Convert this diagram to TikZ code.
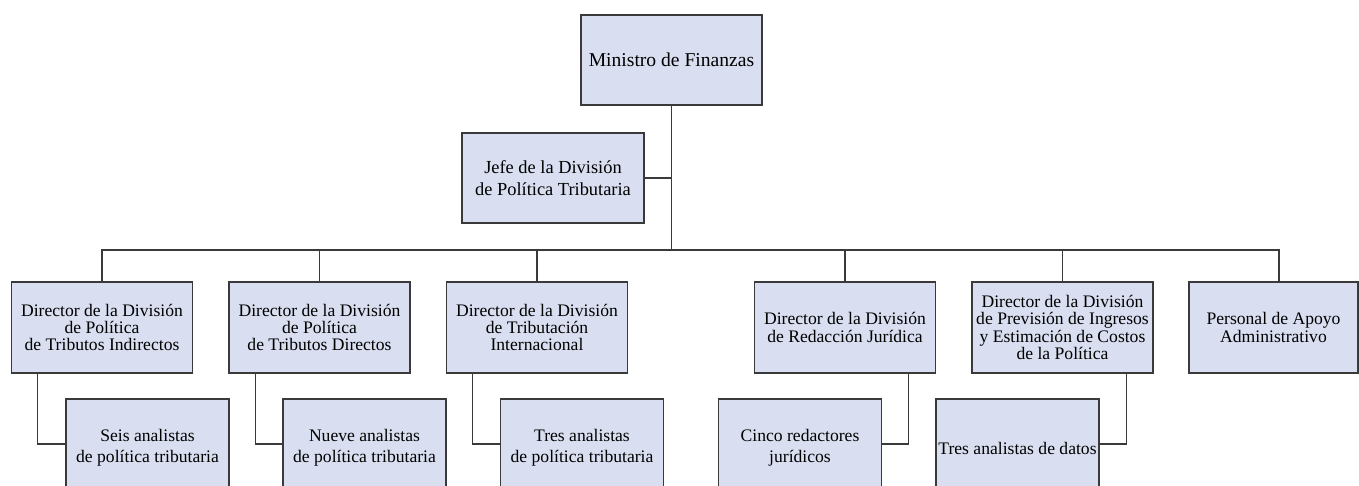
\documentclass[tikz,border=0pt]{standalone}
\usepackage{fontspec}
\setmainfont{Liberation Serif}
\definecolor{boxfill}{HTML}{D9DFF0}
\definecolor{boxline}{HTML}{3A3A3A}
\begin{document}
\begin{tikzpicture}[x=1pt,y=-1pt,
  orgbox/.style={draw=boxline, fill=boxfill, line width=1.4pt, inner sep=0pt,
    align=center, font=\fontsize{17.6}{17.3}\selectfont},
  subbox/.style={orgbox, minimum width=163pt, minimum height=98pt,
    font=\fontsize{17.6}{20.7}\selectfont},
  lvltwo/.style={orgbox, minimum width=181pt, minimum height=91pt},
  conn/.style={draw=boxline, line width=1.2pt}]
\useasboundingbox (0,0) rectangle (1359,485);
% top
\node[orgbox, minimum width=181pt, minimum height=90pt, font=\fontsize{19.6}{22}\selectfont] (min) at (671.5,60) {Ministro de Finanzas};
\node[orgbox, minimum width=182pt, minimum height=90pt, font=\fontsize{18.4}{22}\selectfont] (jefe) at (553,178) {Jefe de la División\\de Política Tributaria};
% level two
\node[lvltwo] (d1) at (102,327.5) {Director de la División\\de Política\\de Tributos Indirectos};
\node[lvltwo] (d2) at (319.5,327.5) {Director de la División\\de Política\\de Tributos Directos};
\node[lvltwo] (d3) at (537,327.5) {Director de la División\\de Tributación\\Internacional};
\node[lvltwo] (d4) at (845,327.5) {Director de la División\\de Redacción Jurídica};
\node[lvltwo] (d5) at (1062.5,327.5) {Director de la División\\de Previsión de Ingresos\\y Estimación de Costos\\de la Política};
\node[lvltwo, minimum width=169pt] (d6) at (1273.5,327.5) {Personal de Apoyo\\Administrativo};
% level three
\node[subbox] (s1) at (147.5,448) {Seis analistas\\de política tributaria};
\node[subbox] (s2) at (364.5,448) {Nueve analistas\\de política tributaria};
\node[subbox] (s3) at (582,448) {Tres analistas\\de política tributaria};
\node[subbox] (s4) at (800,448) {Cinco redactores\\jurídicos};
\node[subbox] (s5) at (1017.5,448) {Tres analistas de datos};
% connectors
\coordinate (bus) at (671.5,250);
\draw[conn] (min.south) -- (bus);
\draw[conn] (jefe.east) -- (jefe.east -| min.south);
\draw[conn] (d1.north) -- (d1.north |- bus) -- ([xshift=5.5pt]d6.north |- bus) -- ([xshift=5.5pt]d6.north);
\foreach \n in {d2,d3,d4,d5}{\draw[conn] (\n.north) -- (\n.north |- bus);}
\draw[conn] ([xshift=27pt]d1.south west) |- ([yshift=4pt]s1.west);
\draw[conn] ([xshift=27pt]d2.south west) |- ([yshift=4pt]s2.west);
\draw[conn] ([xshift=27pt]d3.south west) |- ([yshift=4pt]s3.west);
\draw[conn] ([xshift=-28pt]d4.south east) |- ([yshift=4pt]s4.east);
\draw[conn] ([xshift=-27pt]d5.south east) |- ([yshift=4pt]s5.east);
\end{tikzpicture}
\end{document}
